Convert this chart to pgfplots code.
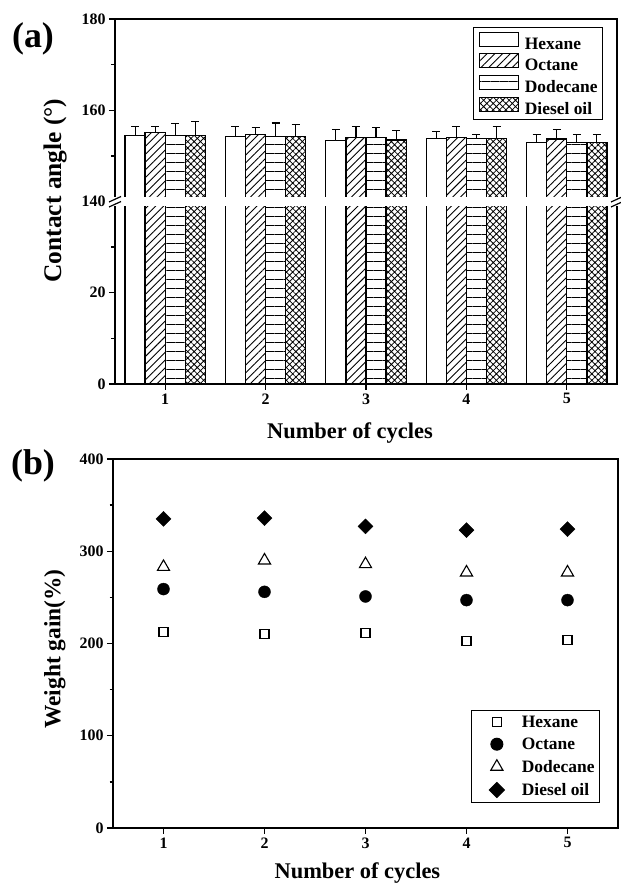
\documentclass[border=0pt]{standalone}
\usepackage{fontspec}
\setmainfont{Liberation Serif}
\usepackage{pgfplots}
\pgfplotsset{compat=1.18}
\usepackage{pgfplotstable}
\usetikzlibrary{patterns.meta}

\pgfplotstableread{
x H Hs O Os D Ds E Es
1 154.4 2.0 155.1 1.3 154.4 2.6 154.4 3.1
2 154.2 2.2 154.7 1.5 154.2 3.0 154.2 2.6
3 153.4 2.3 154.1 2.3 154.1 2.1 153.5 2.1
4 153.8 1.6 154.0 2.4 153.8 0.9 153.8 2.6
5 152.9 1.8 153.7 2.0 152.9 1.8 152.9 1.8
}\contact

\pgfplotstableread{
x H O D E
1 212 259 283 335
2 210 256 290 336
3 211 251 286 327
4 203 247 277 323
5 204 247 277 324
}\weight

\begin{document}
\begin{tikzpicture}
\useasboundingbox (0,0) rectangle (621bp,883bp);
\pgfplotsset{
  common/.style={
    scale only axis,
    xmin=0.5, xmax=5.5,
    xtick={1,2,3,4,5},
    axis line style={line width=1.8bp},
    tick style={line width=1.3bp, black},
    major tick length=6bp, minor tick length=3.5bp,
    tick align=outside,
    xtick pos=bottom, ytick pos=left,
    ticklabel style={font=\fontsize{16}{16}\selectfont\bfseries},
    /pgf/number format/assume math mode=true,
    legend cell align=left,
  },
}
\node at (33bp,844bp) {\fontsize{36}{36}\selectfont\bfseries (a)};
\node at (33bp,417bp) {\fontsize{36}{36}\selectfont\bfseries (b)};

% ---------------- (a) ----------------
\begin{axis}[common,
  at={(115bp,499bp)}, anchor=south west, width=502bp, height=365bp,
  ymin=0, ymax=80, ytick={0,20,40,60,80}, yticklabels={0,20,140,160,180},
  minor y tick num=1,
  ybar, bar width=0.2,
  xlabel={Number of cycles}, ylabel={Contact angle (°)},
  every axis x label/.style={at={(axis description cs:0.468,0)}, anchor=north, yshift=-39bp, inner sep=0pt, font=\fontsize{22.5}{22.5}\selectfont\bfseries},
  every axis y label/.style={at={(axis description cs:-0.1195,0.53)}, rotate=90, anchor=center, font=\fontsize{25.5}{25.5}\selectfont\bfseries},
  legend style={at={(axis description cs:1,1)}, anchor=north east, xshift=-14bp, yshift=-8bp,
    draw=black, line width=1bp, font=\fontsize{17.5}{17.5}\selectfont\bfseries,
    inner xsep=5bp, inner ysep=4bp, nodes={inner sep=0pt}, row sep=2.5bp,
    /tikz/every odd column/.append style={column sep=6bp}},
  legend image code/.code={\draw[#1,line width=1.2bp] (0bp,-2bp) rectangle (39bp,12bp);},
]
\addplot[draw=black, line width=1.3bp, fill=white, bar shift=-0.3,
  error bars/.cd, y dir=plus, y explicit, error bar style={line width=1.1bp},
  error mark options={rotate=90, mark size=4bp, line width=1.1bp}]
  table[x=x, y expr=\thisrow{H}-100, y error=Hs] {\contact};
\addplot[draw=black, line width=1.3bp, pattern={Lines[angle=45,distance=5.5bp,line width=0.9bp]}, bar shift=-0.1,
  error bars/.cd, y dir=plus, y explicit, error bar style={line width=1.1bp},
  error mark options={rotate=90, mark size=4bp, line width=1.1bp}]
  table[x=x, y expr=\thisrow{O}-100, y error=Os] {\contact};
\addplot[draw=black, line width=1.3bp, pattern={Lines[angle=0,distance=9bp,line width=1bp]}, bar shift=0.1,
  error bars/.cd, y dir=plus, y explicit, error bar style={line width=1.1bp},
  error mark options={rotate=90, mark size=4bp, line width=1.1bp}]
  table[x=x, y expr=\thisrow{D}-100, y error=Ds] {\contact};
\addplot[draw=black, line width=1.3bp, pattern={Hatch[angle=45,distance=4.5bp,line width=0.8bp]}, bar shift=0.3,
  error bars/.cd, y dir=plus, y explicit, error bar style={line width=1.1bp},
  error mark options={rotate=90, mark size=4bp, line width=1.1bp}]
  table[x=x, y expr=\thisrow{E}-100, y error=Es] {\contact};
\legend{Hexane, Octane, Dodecane, Diesel oil}
\coordinate (bl) at (axis cs:0.5,40);
\coordinate (br) at (axis cs:5.5,40);
\end{axis}
\fill[white] ([xshift=-7bp,yshift=-4.5bp]bl) rectangle ([xshift=2bp,yshift=4.5bp]br);
\draw[line width=1.2bp] ([shift={(-6bp,-0.5bp)}]bl) -- ([shift={(6bp,5bp)}]bl);
\draw[line width=1.2bp] ([shift={(-6bp,-5.5bp)}]bl) -- ([shift={(6bp,0bp)}]bl);
\draw[line width=1.2bp] ([shift={(-6bp,-0.5bp)}]br) -- ([shift={(6bp,5bp)}]br);
\draw[line width=1.2bp] ([shift={(-6bp,-5.5bp)}]br) -- ([shift={(6bp,0bp)}]br);

% ---------------- (b) ----------------
\begin{axis}[common,
  at={(113bp,55bp)}, anchor=south west, width=505bp, height=369bp,
  ymin=0, ymax=400, ytick={0,100,200,300,400}, minor y tick num=1,
  xlabel={Number of cycles}, ylabel={Weight gain(\%)},
  every axis x label/.style={at={(axis description cs:0.484,0)}, anchor=north, yshift=-35bp, inner sep=0pt, font=\fontsize{22.5}{22.5}\selectfont\bfseries},
  every axis y label/.style={at={(axis description cs:-0.115,0.485)}, rotate=90, anchor=center, font=\fontsize{23.5}{23.5}\selectfont\bfseries},
  legend style={at={(axis description cs:1,0)}, anchor=south east, xshift=-18bp, yshift=25bp,
    draw=black, line width=1bp, font=\fontsize{17.5}{17.5}\selectfont\bfseries,
    inner xsep=5bp, inner ysep=5bp, nodes={inner sep=0pt}, row sep=9bp,
    /tikz/every odd column/.append style={column sep=5bp}},
  legend image code/.code={\path[draw=none,fill=none] (0bp,-6bp) rectangle (40bp,6bp);
    \draw[mark repeat=2,mark phase=2,#1] plot coordinates {(0bp,0bp) (20bp,0bp) (40bp,0bp)};},
]
\addplot[only marks, mark=square, mark size=4.5bp, mark options={line width=1.1bp, draw=black, fill=white}]
  table[x=x, y=H] {\weight};
\addplot[only marks, mark=*, mark size=6bp, mark options={draw=black, fill=black}]
  table[x=x, y=O] {\weight};
\addplot[only marks, mark=triangle, mark size=7bp, mark options={line width=1.1bp, draw=black, fill=white}]
  table[x=x, y=D] {\weight};
\addplot[only marks, mark=square*, mark size=5.3bp, mark options={rotate=45, draw=black, fill=black}]
  table[x=x, y=E] {\weight};
\legend{Hexane, Octane, Dodecane, Diesel oil}
\end{axis}
\end{tikzpicture}
\end{document}
